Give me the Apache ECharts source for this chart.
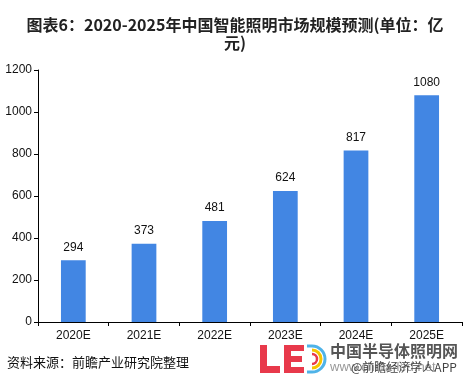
<!DOCTYPE html>
<html><head><meta charset="utf-8">
<script src="https://cdn.jsdelivr.net/npm/echarts@6/dist/echarts.min.js"></script>
<style>html,body{margin:0;padding:0;background:#fff}#c{width:470px;height:385px}</style>
</head><body><div id="c"></div>
<script>
const categories = ['2020E','2021E','2022E','2023E','2024E','2025E'];
const values = [294, 373, 481, 624, 817, 1080];
const yTicks = [0, 200, 400, 600, 800, 1000, 1200];
const titleText = '图表6：2020-2025年中国智能照明市场规模预测(单位：亿\n元)';
const sourceText = '资料来源：前瞻产业研究院整理';

const chart = echarts.init(document.getElementById('c'), null, {renderer:'canvas'});
const red = '#e8394b';
chart.setOption({
  animation:false,
  backgroundColor:'#fff',
  title:{text:titleText,left:'center',top:11,
    textStyle:{fontFamily:'Noto Sans CJK SC',fontSize:16,fontWeight:'bold',color:'#222',lineHeight:18}},
  grid:{left:38,right:8,top:70,bottom:63},
  xAxis:{type:'category',data:categories,
    axisLine:{lineStyle:{color:'#000',width:1}},
    axisTick:{show:true,length:4,lineStyle:{color:'#000'}},
    axisLabel:{color:'#111',fontFamily:'Liberation Sans',fontSize:12,margin:8}},
  yAxis:{type:'value',min:yTicks[0],max:yTicks[yTicks.length-1],interval:200,
    axisLine:{show:true,lineStyle:{color:'#000',width:1}},
    axisTick:{show:true,length:4,lineStyle:{color:'#000'}},
    splitLine:{show:false},
    axisLabel:{color:'#111',fontFamily:'Liberation Sans',fontSize:12,margin:6,formatter:v=>String(v)}},
  series:[{type:'bar',data:values,barWidth:'35%',
    itemStyle:{color:'#4286e3'},
    label:{show:true,position:'top',distance:7,color:'#111',fontFamily:'Liberation Sans',fontSize:12}}],
  graphic:[
    {type:'text',left:7,top:356,style:{text:sourceText,fontFamily:'Noto Sans CJK SC',fontSize:13,fill:'#111'}},
    {type:'rect',shape:{x:260,y:345,width:7,height:28},style:{fill:red}},
    {type:'rect',shape:{x:260,y:366,width:20,height:7},style:{fill:red}},
    {type:'rect',shape:{x:284,y:345,width:7,height:28},style:{fill:red}},
    {type:'rect',shape:{x:284,y:345,width:20,height:6},style:{fill:red}},
    {type:'rect',shape:{x:284,y:356,width:18,height:6},style:{fill:red}},
    {type:'rect',shape:{x:284,y:367,width:20,height:6},style:{fill:red}},
    {type:'arc',shape:{cx:312,cy:359,r:13,startAngle:-Math.PI/2,endAngle:Math.PI/2},style:{stroke:'#4fb3e8',lineWidth:3,fill:null}},
    {type:'arc',shape:{cx:312,cy:359,r:9,startAngle:-Math.PI/2,endAngle:Math.PI/2},style:{stroke:'#f5c400',lineWidth:3,fill:null}},
    {type:'arc',shape:{cx:312,cy:359,r:5,startAngle:-Math.PI/2,endAngle:Math.PI/2},style:{stroke:red,lineWidth:2.5,fill:null}},
    {type:'line',shape:{x1:307,y1:346,x2:312,y2:346},style:{stroke:'#4fb3e8',lineWidth:3}},
    {type:'line',shape:{x1:307,y1:372,x2:312,y2:372},style:{stroke:'#4fb3e8',lineWidth:3}},
    {type:'text',left:330,top:343,style:{text:'中国半导体照明网',fontFamily:'Noto Sans CJK SC',fontSize:16,fontWeight:'bold',fill:'#555'}},
    {type:'text',left:330,top:361,style:{text:'www.china-led.net',fontFamily:'Liberation Sans',fontSize:13,fill:'#999'}},
    {type:'text',left:351,top:361,style:{text:'@前瞻经济学人APP',fontFamily:'Noto Sans CJK SC',fontSize:12,fill:'#444'}}
  ]
});
</script></body></html>
